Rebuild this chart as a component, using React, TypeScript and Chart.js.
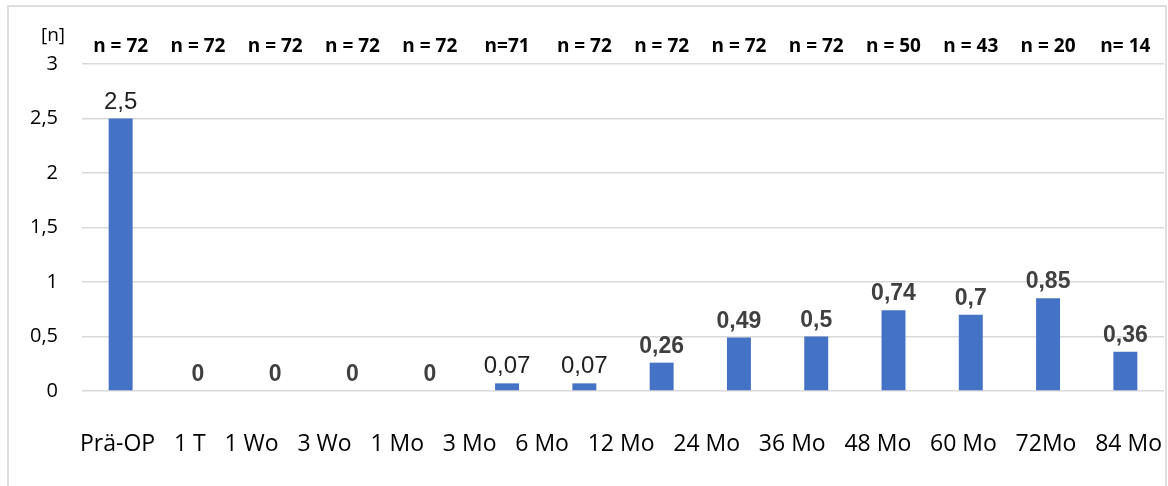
import { useEffect, useRef } from "react";
import { Chart, registerables } from "chart.js";

Chart.register(...registerables);

// Follow-up time points
const categories = [
  "Prä-OP", "1 T", "1 Wo", "3 Wo", "1 Mo", "3 Mo", "6 Mo",
  "12 Mo", "24 Mo", "36 Mo", "48 Mo", "60 Mo", "72Mo", "84 Mo",
];

// Mean count per time point
const values = [2.5, 0, 0, 0, 0, 0.07, 0.07, 0.26, 0.49, 0.5, 0.74, 0.7, 0.85, 0.36];

// Number of patients at each time point
const sampleSizes = [
  "n = 72", "n = 72", "n = 72", "n = 72", "n = 72", "n=71", "n = 72",
  "n = 72", "n = 72", "n = 72", "n = 50", "n = 43", "n = 20", "n= 14",
];

const yTicks = [0, 0.5, 1, 1.5, 2, 2.5, 3];
const yUnit = "[n]";

// Value labels written in the plain (non-bold) style
const plainLabelIndices = new Set([0, 5, 6]);

const BAR_COLOR = "#4472C4";
const GRID_COLOR = "#d9d9d9";
const CALIBRI_LIKE = '"Open Sans", "Noto Sans", sans-serif';
const ARIAL_LIKE = '"Liberation Sans", Arial, sans-serif';

const fmt = (v: number) => String(v).replace(".", ",");

const decorations = {
  id: "decorations",
  afterDatasetsDraw(chart: any) {
    const { ctx, chartArea, scales } = chart;
    const xScale = scales.x;
    const yScale = scales.y;
    const meta = chart.getDatasetMeta(0);
    ctx.save();

    // value labels above each bar
    ctx.textAlign = "center";
    ctx.textBaseline = "alphabetic";
    meta.data.forEach((bar: any, i: number) => {
      const plain = plainLabelIndices.has(i);
      ctx.font = plain ? `24px ${ARIAL_LIKE}` : `bold 23px ${ARIAL_LIKE}`;
      ctx.fillStyle = plain ? "#1f1f1f" : "#404040";
      ctx.fillText(fmt(values[i]), bar.x, bar.y - 10);
    });

    // sample sizes along the top
    ctx.font = `bold 19px ${CALIBRI_LIKE}`;
    ctx.fillStyle = "#000";
    sampleSizes.forEach((t, i) => {
      ctx.fillText(t, xScale.getPixelForValue(i), chartArea.top - 12);
    });

    // unit above the value axis
    ctx.font = `19px ${CALIBRI_LIKE}`;
    ctx.fillText(yUnit, yScale.right - 29, chartArea.top - 23);

    // time point labels, spread evenly across the plot width
    ctx.font = `23px ${CALIBRI_LIKE}`;
    ctx.textAlign = "left";
    const widths = categories.map((c) => ctx.measureText(c).width);
    const total = widths.reduce((a, b) => a + b, 0);
    const left = chartArea.left - 2;
    const right = chartArea.right - 2;
    const gap = (right - left - total) / (categories.length - 1);
    let cx = left;
    categories.forEach((c, i) => {
      ctx.fillText(c, cx, chartArea.bottom + 60);
      cx += widths[i] + gap;
    });

    ctx.restore();
  },
};

export default function App() {
  const canvasRef = useRef<HTMLCanvasElement | null>(null);

  useEffect(() => {
    const canvas = canvasRef.current;
    if (!canvas) return;
    const chart = new Chart(canvas, {
      type: "bar",
      data: {
        labels: categories,
        datasets: [
          {
            data: values,
            backgroundColor: BAR_COLOR,
            borderWidth: 0,
            barPercentage: 0.31,
            categoryPercentage: 1,
          },
        ],
      },
      options: {
        responsive: false,
        animation: false,
        devicePixelRatio: 1,
        layout: { padding: { top: 64, right: 4, bottom: 0, left: 0 } },
        plugins: {
          legend: { display: false },
          tooltip: { enabled: false },
          title: { display: false },
        },
        scales: {
          x: {
            grid: { display: false },
            border: { display: false },
            ticks: { display: false },
            afterFit: (scale: any) => {
              scale.height = 95;
            },
          },
          y: {
            min: 0,
            max: 3,
            afterBuildTicks: (scale: any) => {
              scale.ticks = yTicks.map((v) => ({ value: v }));
            },
            afterFit: (scale: any) => {
              scale.width = 82;
            },
            grid: { color: GRID_COLOR, lineWidth: 1.5, drawTicks: false },
            border: { display: false },
            ticks: {
              padding: 24,
              color: "#000",
              font: { family: CALIBRI_LIKE, size: 20 },
              callback: (v: any) => fmt(Number(v)),
            },
          },
        },
      },
      plugins: [decorations],
    });
    return () => chart.destroy();
  }, []);

  return (
    <div
      style={{
        position: "fixed",
        left: 0,
        top: 0,
        width: 1168,
        height: 486,
        background: "#fff",
        overflow: "hidden",
      }}
    >
      <div
        style={{
          position: "absolute",
          left: 7,
          top: 5,
          width: 1160,
          height: 600,
          border: "2px solid #dedede",
          boxSizing: "border-box",
        }}
      />
      <canvas
        ref={canvasRef}
        width={1168}
        height={486}
        style={{ position: "absolute", left: 0, top: 0, width: 1168, height: 486 }}
      />
    </div>
  );
}
